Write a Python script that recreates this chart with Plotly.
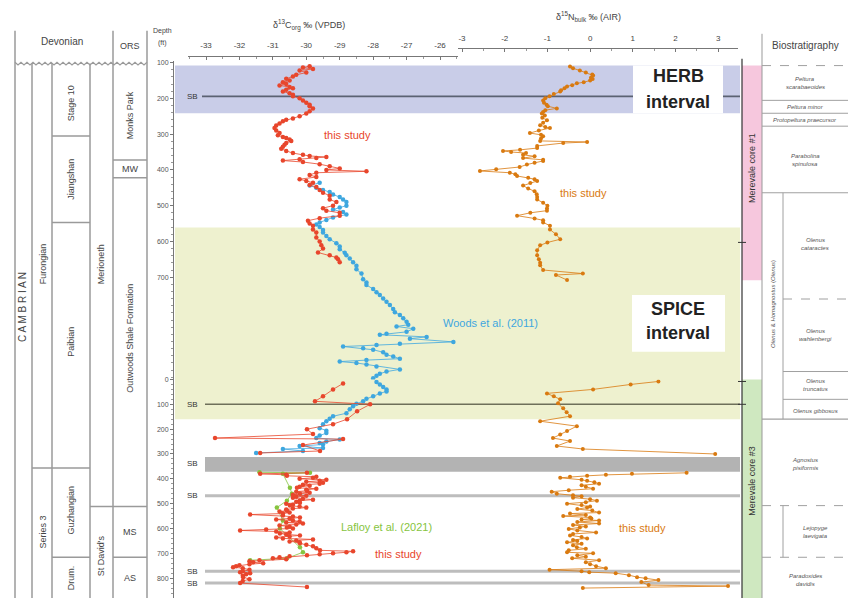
import plotly.graph_objects as go

W, H = 848, 598
def px(x): return x / W
def py(y): return 1 - y / H

# ---------------- data ----------------
# Merevale core #1 (depth, ft)
red_c1_depth = [110,114,118,122,128,134,139,145,150,155,160,164,168,172,176,181,186,190,194,200,206,212,218,222,228,236,242,250,256,260,264,270,276,283,290,297,303,308,311,315,319,325,330,335,341,347,353,358,361,364,367,370,374,378,384,390,396,400,404,408,414,420,426,431,436,442,448,456,464,472,483,490,500,507,514,520,528,535,542,550,556,567,575,589,600,611,620,631,639,645,650,658]
red_c1_d13c = [-29.9,-30.1,-29.8,-30.2,-30.0,-30.3,-30.4,-30.6,-30.5,-30.7,-30.6,-30.8,-30.5,-30.4,-30.6,-30.7,-30.5,-30.4,-30.4,-30.2,-30.1,-30.0,-29.9,-29.9,-29.8,-29.9,-30.0,-30.2,-30.4,-30.6,-30.7,-30.8,-30.9,-30.95,-30.9,-30.8,-30.85,-30.7,-30.6,-30.5,-30.45,-30.6,-30.65,-30.7,-30.75,-30.6,-30.4,-30.1,-29.9,-29.4,-29.7,-30.2,-30.7,-30.1,-29.6,-29.3,-29.0,-29.4,-28.2,-29.7,-29.9,-29.7,-30.2,-30.0,-29.8,-29.9,-29.7,-29.6,-29.5,-29.3,-29.3,-29.1,-29.2,-29.5,-29.4,-29.0,-29.0,-29.6,-29.95,-29.9,-29.8,-29.8,-29.7,-29.7,-29.6,-29.55,-29.5,-29.65,-29.3,-29.1,-29.05,-29.0]

woods_c1_depth = [436,444,450,456,462,469,476,483,490,500,505,511,518,525,533,540,547,553,560,568,575,585,594,605,614,622,632,639,648,658,668,678,690,706,715,722,733,742,750,760,769,778,789,798,806,815,825,833,838,844,853,858,861,867,872,881,886,890,894,899,903,910,917,922,928,932,936,940,944,950,958,964,970,976,983]
woods_c1_d13c = [-29.6,-29.9,-29.7,-29.5,-29.3,-29.2,-29.0,-28.9,-28.8,-28.8,-29.0,-29.2,-28.9,-28.8,-29.2,-29.4,-29.6,-29.7,-29.6,-29.5,-29.5,-29.4,-29.3,-29.1,-29.0,-29.0,-28.85,-28.8,-28.7,-28.6,-28.5,-28.5,-28.35,-28.3,-28.2,-28.2,-28.0,-27.9,-27.8,-27.7,-27.6,-27.5,-27.4,-27.35,-27.2,-27.1,-27.0,-26.95,-27.3,-26.8,-27.0,-27.6,-27.8,-26.4,-26.9,-25.6,-27.2,-27.9,-28.9,-28.3,-28.0,-27.7,-27.6,-27.4,-27.2,-28.2,-29.0,-28.5,-28.2,-27.9,-27.2,-27.6,-27.8,-27.9,-28.0]

n_c1_depth = [111,116,122,128,133,136,142,146,150,155,158,163,167,172,177,181,188,194,200,206,212,218,222,228,233,238,242,248,254,261,268,275,280,283,290,297,302,306,312,319,322,325,333,339,344,347,350,353,358,362,367,372,375,380,385,392,398,403,408,412,417,422,426,431,437,444,452,460,468,476,483,492,500,508,514,520,528,536,541,547,556,567,580,594,603,611,625,639,650,660,667,680,690,694,708]
n_c1_d15n = [-0.47,-0.40,-0.24,-0.10,0.05,0.07,0.02,0.06,0.00,-0.15,-0.31,-0.42,-0.54,-0.60,-0.68,-0.70,-0.85,-0.95,-1.05,-1.10,-1.08,-1.02,-0.99,-0.78,-1.05,-1.10,-1.13,-1.06,-1.12,-1.01,-1.10,-1.17,-1.05,-0.94,-1.20,-1.41,-1.15,-1.10,-1.15,-1.17,-0.07,-0.63,-1.24,-1.24,-1.64,-2.04,-1.85,-1.50,-1.57,-1.30,-1.57,-1.10,-1.10,-1.30,-1.48,-1.65,-2.20,-2.58,-1.88,-1.75,-1.71,-1.45,-1.30,-1.24,-1.40,-1.57,-1.45,-1.30,-1.25,-1.24,-1.24,-1.10,-1.00,-1.01,-1.01,-1.40,-1.71,-1.30,-1.10,-1.10,-0.94,-0.94,-0.80,-0.70,-1.00,-1.17,-1.24,-1.24,-1.20,-1.17,-1.17,-1.10,-0.17,-0.80,-0.54]

# Merevale core #3 (depth, ft)
woods_c3_depth = [10,20,30,40,48,56,68,78,88,98,108,120,136,148,158,168,180,196,206,216,226,236,242,250,256,262,268,276,280,288,296]
woods_c3_d13c = [-27.9,-27.8,-27.7,-27.6,-27.6,-27.8,-28.0,-28.2,-28.3,-28.5,-28.6,-28.7,-28.8,-29.2,-29.3,-29.4,-29.5,-29.6,-29.4,-29.4,-29.6,-29.7,-29.0,-29.4,-29.6,-29.5,-30.2,-29.5,-30.7,-30.1,-31.5]

red_c3_upper_depth = [16,40,68,88,100,128,160,180,200,220,236,240,264,288,296]
red_c3_upper_d13c = [-28.9,-29.2,-29.5,-29.74,-28.09,-28.48,-28.78,-29.2,-29.98,-29.8,-32.73,-28.9,-30.1,-29.59,-31.38]

red_c3_lower_depth = [376,380,384,388,392,396,400,404,408,412,416,420,424,428,432,436,440,444,448,452,456,460,464,468,472,476,480,484,488,492,496,500,504,508,512,516,520,524,528,532,536,540,544,548,552,556,560,564,568,572,576,580,584,588,592,596,600,604,608,612,616,620,624,628,632,636,640,644,648,652,656,660,666,672,680,688,692,696,700,704,708,712,716,720,724,728,732,736,740,744,748,752,756,760,766,772,776,780,784,790,796,804,812,820,836]
red_c3_lower_d13c = [-29.98,-31.38,-30.6,-30.58,-29.7,-29.8,-30.2,-29.4,-29.6,-30.0,-29.5,-29.6,-30.1,-29.9,-30.2,-30.28,-29.7,-30.0,-29.98,-30.3,-29.9,-30.19,-30.4,-30.0,-30.3,-30.4,-30.1,-29.8,-30.2,-30.3,-30.19,-30.6,-30.4,-30.49,-30.2,-30.0,-30.4,-30.6,-30.58,-30.8,-30.5,-30.7,-31.68,-30.7,-30.4,-30.19,-30.5,-30.9,-30.4,-30.2,-30.6,-30.1,-30.3,-30.8,-30.5,-30.58,-30.4,-31.2,-31.98,-30.9,-30.5,-30.79,-30.6,-30.19,-30.5,-30.9,-30.7,-29.8,-30.3,-30.5,-30.2,-30.19,-30.0,-29.8,-29.7,-29.59,-28.6,-28.8,-29.2,-29.6,-29.98,-30.5,-30.8,-31.0,-30.6,-31.4,-31.7,-31.59,-31.29,-31.7,-32.0,-32.1,-32.19,-31.9,-31.7,-31.9,-31.98,-31.68,-31.8,-31.9,-31.89,-31.7,-31.9,-31.98,-29.98]

lafloy_depth = [374,376,380,436,460,488,516,568,600,676,696,720,728]
lafloy_d13c = [-31.4,-29.89,-30.7,-30.49,-30.43,-30.58,-30.88,-30.7,-30.79,-30.19,-30.1,-30.58,-31.68]

n_c3_upper_depth = [8,20,40,56,68,80,96,116,132,148,168,188,208,222,236,248,268,280,300]
n_c3_upper_d15n = [1.60,0.95,0.07,-1.01,-0.85,-0.70,-0.75,-0.63,-0.55,-0.47,-1.17,-0.31,-0.54,-0.70,-0.87,-0.47,-0.78,-0.17,2.93]

n_c3_lower_depth = [376,380,384,388,392,396,404,408,414,420,426,432,440,446,452,460,466,470,476,482,488,494,500,506,512,516,522,528,536,540,546,550,556,560,564,568,574,580,586,592,596,602,608,616,622,628,634,640,646,650,656,662,668,676,682,688,696,700,708,714,720,728,736,744,752,760,766,772,776,780,788,796,800,808,816,828,832,840]
n_c3_lower_d15n = [2.26,0.98,0.37,-0.07,-0.47,-0.70,-0.20,-0.07,0.10,0.21,-0.20,-0.10,0.07,-0.50,-0.90,-0.78,-0.40,-0.20,-0.40,0.00,0.16,-0.10,-0.54,-0.20,0.00,-0.07,-0.30,0.05,0.21,-0.47,-0.10,-0.63,0.00,0.03,-0.20,0.21,-0.30,0.21,-0.40,-0.10,-0.24,-0.50,-0.30,0.14,-0.40,-0.47,-0.20,-0.07,-0.40,-0.30,-0.54,-0.20,-0.40,-0.31,-0.10,-0.50,-0.54,0.07,-0.30,-0.10,-0.42,0.21,-0.10,0.00,0.14,0.37,-0.95,-0.20,-0.02,0.60,0.91,1.10,1.30,1.60,1.20,1.37,3.23,-0.17]

c13_ticks = [-33, -32, -31, -30, -29, -28, -27, -26]
n15_ticks = [-3, -2, -1, 0, 1, 2, 3]
core1_ticks = [100, 200, 300, 400, 500, 600, 700]
core3_ticks = [0, 100, 200, 300, 400, 500, 600, 700, 800]

# ---------------- colours ----------------
RED = '#e8462c'
BLUE = '#3ea7df'
ORANGE = '#d97a10'
GREEN = '#86c440'
FONT = 'Liberation Sans, Arial, sans-serif'

fig = go.Figure()

def add_series(depth, vals, xa, ya, color, name, size=4.5, lw=0.8):
    fig.add_trace(go.Scatter(x=vals, y=depth, xaxis=xa, yaxis=ya, mode='lines+markers',
                             line=dict(color=color, width=lw),
                             marker=dict(color=color, size=size),
                             showlegend=False, name=name))

add_series(woods_c1_depth, woods_c1_d13c, 'x', 'y', BLUE, 'Woods et al. (2011)')
add_series(woods_c3_depth, woods_c3_d13c, 'x', 'y2', BLUE, 'Woods et al. (2011)')
add_series(red_c1_depth, red_c1_d13c, 'x', 'y', RED, 'this study')
add_series(red_c3_upper_depth, red_c3_upper_d13c, 'x', 'y2', RED, 'this study')
add_series(lafloy_depth, lafloy_d13c, 'x', 'y2', GREEN, 'Lafloy et al. (2021)')
add_series(red_c3_lower_depth, red_c3_lower_d13c, 'x', 'y2', RED, 'this study')
add_series(n_c1_depth, n_c1_d15n, 'x2', 'y', ORANGE, 'this study', size=4)
add_series(n_c3_upper_depth, n_c3_upper_d15n, 'x2', 'y2', ORANGE, 'this study', size=4)
add_series(n_c3_lower_depth, n_c3_lower_d15n, 'x2', 'y2', ORANGE, 'this study', size=4)

# ---------------- shapes ----------------
shapes = []
def rect(x0, y0, x1, y1, fill, layer='below'):
    shapes.append(dict(type='rect', xref='paper', yref='paper', x0=px(x0), x1=px(x1),
                       y0=py(y1), y1=py(y0), fillcolor=fill, line=dict(width=0), layer=layer))
def seg(x0, y0, x1, y1, color, width=1, dash='solid', layer='below'):
    shapes.append(dict(type='line', xref='paper', yref='paper', x0=px(x0), x1=px(x1),
                       y0=py(y0), y1=py(y1), line=dict(color=color, width=width, dash=dash), layer=layer))

# intervals
rect(175, 62, 740, 110, '#c9cde8')
rect(175, 225, 740, 418, '#eef1cf')
seg(202, 93, 740, 93, '#5b6272', 1.6)
rect(633, 62, 723, 110, 'white')
rect(632, 293, 725, 350, 'white')
rect(205, 456, 740, 471, '#b3b3b3')
seg(205, 403, 740, 403, '#6e705a', 1.5)
for yy in (495, 571, 583):
    seg(205, yy, 740, yy, '#bdbdbd', 3)

# core bars
rect(742, 62, 762, 278, '#f6c7dd')
rect(742, 378, 762, 598, '#cfe8c0')
seg(742, 55, 742, 598, '#333333', 1.2)
seg(762, 30, 762, 598, '#999999', 1)
for yy in (240, 380, 403):
    seg(738, yy, 746, yy, '#333333', 1)

# biostratigraphy table
TL = '#a0a0a0'
seg(762, 62, 848, 62, TL, 1, 'dash')
for yy in (97, 110, 123):
    seg(762, yy, 848, yy, TL, 1)
seg(762, 190, 848, 190, TL, 1.2)
seg(783, 190, 783, 418, TL, 1)
seg(783, 297, 848, 297, TL, 1, 'dash')
seg(783, 370, 848, 370, TL, 1)
seg(783, 398, 848, 398, TL, 1)
seg(762, 418, 848, 418, TL, 1.2)
seg(762, 505, 848, 505, TL, 1, 'dash')
seg(783, 505, 783, 557, TL, 1)
seg(762, 557, 848, 557, TL, 1, 'dash')

# stratigraphic columns
SL = '#9a9a9a'
for xx in (15, 113, 147):
    seg(xx, 27, xx, 598, SL, 1.5)
for xx in (32, 52, 90):
    seg(xx, 60, xx, 598, SL, 1.5)
seg(52, 133, 90, 133, SL, 1.5)
seg(52, 220, 90, 220, SL, 1.5)
seg(32, 467, 90, 467, SL, 1.5)
seg(52, 557, 90, 557, SL, 1.5)
seg(113, 157, 147, 157, SL, 1.5)
seg(113, 175, 147, 175, SL, 1.5)
seg(90, 506, 147, 506, SL, 1.5)
seg(113, 557, 147, 557, SL, 1.5)
# wavy unconformity
pts = []
xw = 15.0
k = 0
while xw <= 147:
    yw = 60 + (1.4 if k % 2 else -1.4)
    pts.append((xw, yw))
    xw += 3.0
    k += 1
path = 'M ' + ' L '.join(f'{px(a):.5f},{py(b):.5f}' for a, b in pts)
shapes.append(dict(type='path', xref='paper', yref='paper', path=path,
                   line=dict(color=SL, width=1.2), layer='below'))

# ---------------- annotations ----------------
ann = []
def text(x, y, s, size=9, color='#444444', angle=0, bold=False, xanchor='center'):
    ann.append(dict(x=px(x), y=py(y), xref='paper', yref='paper', text=(f'<b>{s}</b>' if bold else s),
                    showarrow=False, textangle=angle, xanchor=xanchor, yanchor='middle',
                    font=dict(size=size, color=color, family=FONT)))

text(309, 21, 'δ<sup>13</sup>C<sub>org</sub> ‰ (VPDB)', 9, '#444')
text(588, 13, 'δ<sup>15</sup>N<sub>bulk</sub> ‰ (AIR)', 9, '#444')
text(162, 27, 'Depth', 7, '#444')
text(162, 39, '(ft)', 7, '#444')
text(62, 38, 'Devonian', 10, '#444')
text(130, 42, 'ORS', 9, '#444')
text(805, 42, 'Biostratigraphy', 10, '#444')

text(23, 305, 'C A M B R I A N', 10, '#444', -90)
text(43, 262, 'Furongian', 9, '#444', -90)
text(43, 532, 'Series 3', 9, '#444', -90)
text(71, 100, 'Stage 10', 9, '#444', -90)
text(71, 177, 'Jiangshan', 9, '#444', -90)
text(71, 340, 'Paibian', 9, '#444', -90)
text(71, 510, 'Guzhangian', 9, '#444', -90)
text(71, 578, 'Drum.', 9, '#444', -90)
text(101, 262, 'Merioneth', 9, '#444', -90)
text(101, 556, "St David's", 9, '#444', -90)
text(130, 112, 'Monks Park', 9, '#444', -90)
text(130, 166, 'MW', 9, '#444')
text(130, 337, 'Outwoods Shale Formation', 9, '#444', -90)
text(130, 532, 'MS', 9, '#444')
text(130, 578, 'AS', 9, '#444')

for yy in (93, 403, 463, 495, 571, 583):
    text(192, yy, 'SB', 8, '#333')

text(678, 72, 'HERB', 18, '#222', bold=True)
text(678, 99, 'interval', 18, '#222', bold=True)
text(678, 307, 'SPICE', 18, '#222', bold=True)
text(678, 331, 'interval', 18, '#222', bold=True)

text(347, 132, 'this study', 11, RED)
text(490, 321, 'Woods et al. (2011)', 11, BLUE)
text(583, 190, 'this study', 11, ORANGE)
text(386, 527, 'Lafloy et al. (2021)', 11, GREEN)
text(398, 554, 'this study', 11, RED)
text(642, 528, 'this study', 11, ORANGE)

text(752, 165, 'Merevale core #1', 9, '#333', -90)
text(752, 480, 'Merevale core #3', 9, '#333', -90)

BS = '#555555'
def two(x, y, a, b, size=6):
    text(x, y - 4, f'<i>{a}</i>', size, BS)
    text(x, y + 4, f'<i>{b}</i>', size, BS)

two(805, 80, 'Peltura', 'scarabaeoides')
text(805, 104, '<i>Peltura minor</i>', 6, BS)
text(805, 117, '<i>Protopeltura praecursor</i>', 6, BS)
two(805, 157, 'Parabolina', 'spinulosa')
text(773, 302, '<i>Olenus</i> & <i>Homagnostus</i> (<i>Olenus</i>)', 6, BS, -90)
two(815, 242, 'Olenus', 'cataractes')
two(815, 333, 'Olenus', 'wahlenbergi')
two(815, 384, 'Olenus', 'truncatus')
text(815, 410, '<i>Olenus gibbosus</i>', 6, BS)
two(805, 463, 'Agnostus', 'pisiformis')
two(815, 532, 'Lejopyge', 'laevigata')
two(805, 580, 'Paradoxides', 'davidis')

# ---------------- axes ----------------
c_lo = -33 + (188 - 206) / 33.43
c_hi = -33 + (458 - 206) / 33.43
n_lo = -3 + (458 - 462) / 42.7
n_hi = -3 + (738 - 462) / 42.7
d1_top = 100 + (57 - 59) / 0.36
d1_bot = 100 + (378 - 59) / 0.36
d3_bot = (598 - 378) * 4

AX = '#777777'
xcommon = dict(side='top', anchor='free', showline=True, linecolor=AX, linewidth=1,
               ticks='inside', ticklen=3, tickcolor=AX, tickmode='array', ticklabelstandoff=4,
               tickfont=dict(size=8, color='#444', family=FONT), showgrid=False, zeroline=False,
               fixedrange=True)

fig.update_layout(
    width=W, height=H, margin=dict(l=0, r=0, t=0, b=0),
    paper_bgcolor='white', plot_bgcolor='rgba(0,0,0,0)',
    font=dict(family=FONT),
    showlegend=False,
    xaxis=dict(domain=[px(188), px(458)], range=[c_lo, c_hi], position=py(52),
               tickvals=c13_ticks, ticktext=[str(v) for v in c13_ticks],
               minor=dict(ticks='inside', ticklen=2, tickcolor='#999', tickmode='array',
                          tickvals=[v + 0.5 for v in c13_ticks] + [-33.5]), **xcommon),
    xaxis2=dict(domain=[px(458), px(738)], range=[n_lo, n_hi], position=py(44),
                tickvals=n15_ticks, ticktext=[str(v) for v in n15_ticks],
                minor=dict(ticks='inside', ticklen=2, tickcolor='#999', tickmode='array',
                           tickvals=[v + 0.5 for v in n15_ticks]), **xcommon),
    yaxis=dict(domain=[py(378), py(57)], range=[d1_bot, d1_top], anchor='free', position=px(173),
               showline=True, linecolor=AX, linewidth=1, ticks='outside', ticklen=3, tickcolor=AX,
               tickmode='array', tickvals=core1_ticks, ticktext=[str(v) for v in core1_ticks],
               tickfont=dict(size=7, color='#555', family=FONT),
               minor=dict(ticks='outside', ticklen=2, tickcolor='#999', tickmode='array',
                          tickvals=list(range(120, 990, 20))),
               showgrid=False, zeroline=False, fixedrange=True),
    yaxis2=dict(domain=[0, py(378)], range=[d3_bot, 0], anchor='free', position=px(173),
                showline=True, linecolor=AX, linewidth=1, ticks='outside', ticklen=3, tickcolor=AX,
                tickmode='array', tickvals=core3_ticks, ticktext=[str(v) for v in core3_ticks],
                tickfont=dict(size=7, color='#555', family=FONT),
                minor=dict(ticks='outside', ticklen=2, tickcolor='#999', tickmode='array',
                           tickvals=list(range(20, 880, 20))),
                showgrid=False, zeroline=False, fixedrange=True),
    shapes=shapes,
    annotations=ann,
)

fig.write_html('out.html', config={'displayModeBar': False},
               post_script="document.body.style.margin='0px';document.body.style.overflow='hidden';")
